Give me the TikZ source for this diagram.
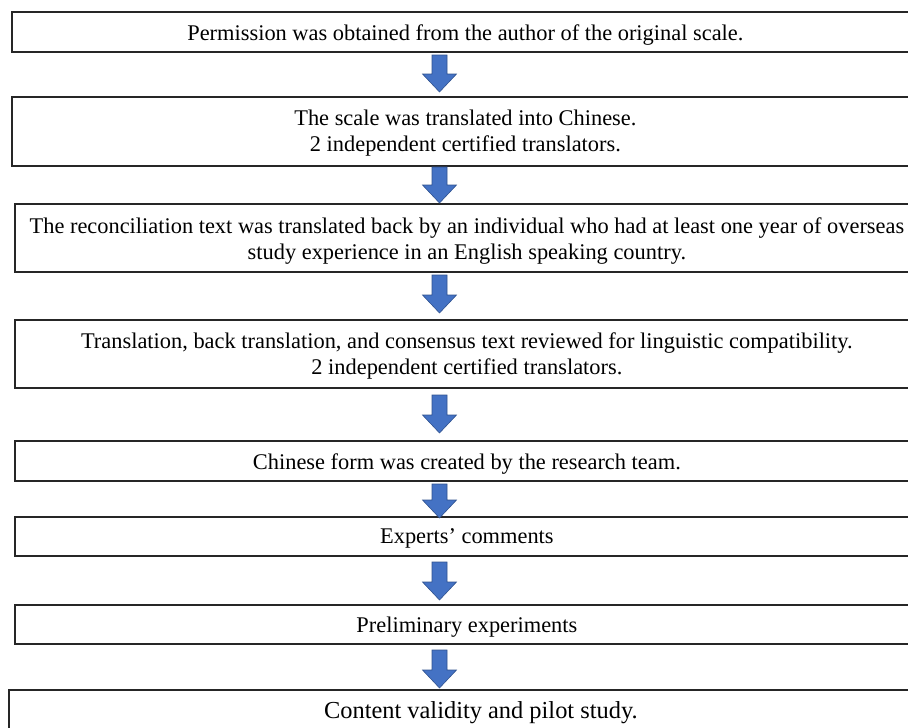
\documentclass[tikz,border=0pt]{standalone}
\usepackage{fontspec}
\setmainfont{Liberation Serif}
\newcommand\boxtext[2]{\raisebox{-#1pt}[\height][\depth]{\parbox{900pt}{\centering #2}}}
\begin{document}
\begin{tikzpicture}[x=1pt,y=-1pt,
  box/.style={draw=black!85,line width=1.8pt,fill=white,inner sep=0pt,align=center,
    font=\fontsize{22.4}{26}\selectfont}]
\useasboundingbox (0,0) rectangle (908,728);
\clip (0,0) rectangle (908,728);
\definecolor{arrowblue}{HTML}{4472C4}
\definecolor{arrowedge}{HTML}{2F528F}
\tikzset{blk/.style={fill=arrowblue,draw=arrowedge,line width=0.6pt}}
\newcommand\blkarrow[4]{% name, x, top, bottom
  \coordinate (#1) at (#2,#3);
  \filldraw[blk] (#2-7.5,#3) -- (#2+7.5,#3) -- (#2+7.5,#4-18) -- (#2+17,#4-18)
    -- (#2,#4) -- (#2-17,#4-18) -- (#2-7.5,#4-18) -- cycle;}
% boxes
\node[box,minimum width=907pt,minimum height=40pt,anchor=north west] (b1) at (11,11)
  {\boxtext{3}{Permission was obtained from the author of the original scale.}};
\node[box,minimum width=907pt,minimum height=69pt,anchor=north west] (b2) at (11,96)
  {\boxtext{2}{The scale was translated into Chinese.\\2 independent certified translators.}};
\node[box,minimum width=904pt,minimum height=68pt,anchor=north west] (b3) at (14,203)
  {\boxtext{3.5}{The reconciliation text was translated back by an individual who had at least one year of overseas\\study experience in an English speaking country.}};
\node[box,minimum width=904pt,minimum height=68pt,anchor=north west] (b4) at (14,319)
  {\boxtext{2}{Translation, back translation, and consensus text reviewed for linguistic compatibility.\\2 independent certified translators.}};
\node[box,minimum width=904pt,minimum height=40pt,anchor=north west] (b5) at (14,440)
  {\boxtext{3}{Chinese form was created by the research team.}};
\node[box,minimum width=904pt,minimum height=39pt,anchor=north west] (b6) at (14,516)
  {\boxtext{2}{Experts’ comments}};
\node[box,minimum width=904pt,minimum height=39pt,anchor=north west] (b7) at (14,604)
  {\boxtext{3}{Preliminary experiments}};
\node[box,minimum width=910pt,minimum height=44pt,anchor=north west,
  font=\fontsize{24.4}{28}\selectfont] (b8) at (8,689)
  {\boxtext{1}{\hspace*{34pt}Content validity and pilot study.}};
% block arrows between boxes
\blkarrow{a1}{439.5}{55}{92}
\blkarrow{a2}{439.5}{167}{203}
\blkarrow{a3}{439.5}{275}{313}
\blkarrow{a4}{439.5}{395}{433}
\blkarrow{a5}{439.5}{484}{518}
\blkarrow{a6}{439.5}{562}{600}
\blkarrow{a7}{439.5}{650}{688}
\end{tikzpicture}
\end{document}
